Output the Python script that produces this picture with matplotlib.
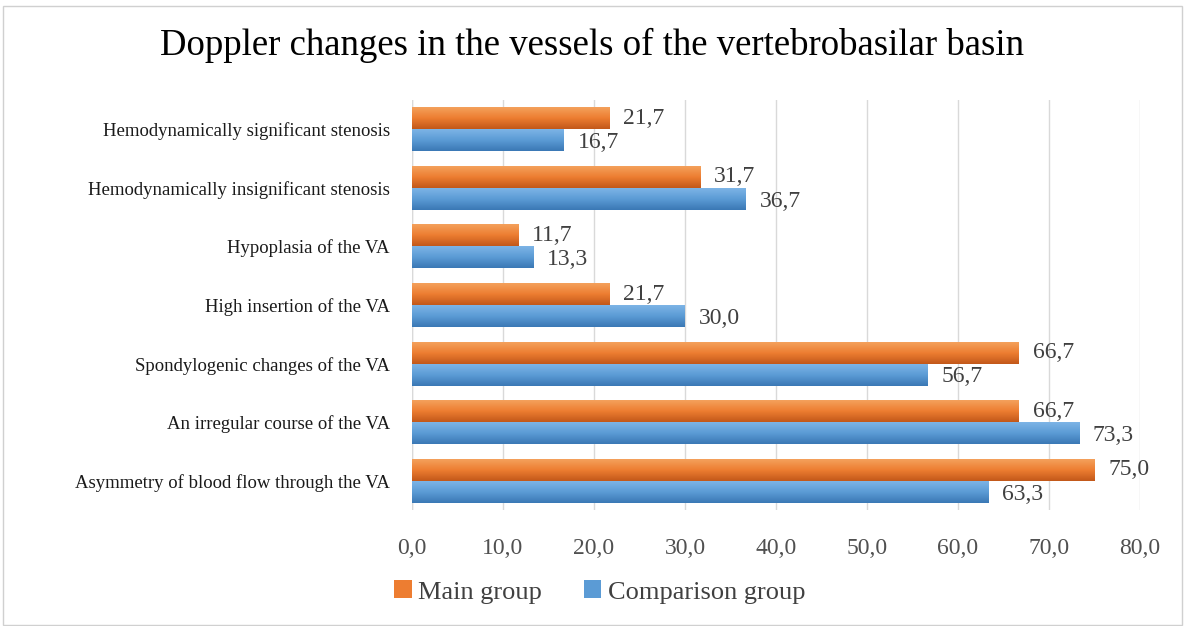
import numpy as np
import matplotlib
matplotlib.use("Agg")
import matplotlib.pyplot as plt
from matplotlib.colors import LinearSegmentedColormap
from matplotlib.patches import Rectangle

categories = [
    "Hemodynamically significant stenosis",
    "Hemodynamically insignificant stenosis",
    "Hypoplasia of the VA",
    "High insertion of the VA",
    "Spondylogenic changes of the VA",
    "An irregular course of the VA",
    "Asymmetry of blood flow through the VA",
]
main_group = [21.7, 31.7, 11.7, 21.7, 66.7, 66.7, 75.0]
comparison_group = [16.7, 36.7, 13.3, 30.0, 56.7, 73.3, 63.3]
series_names = ["Main group", "Comparison group"]
xticks = [0, 10, 20, 30, 40, 50, 60, 70, 80]

plt.rcParams['font.family'] = ['Liberation Serif', 'DejaVu Serif']

fig = plt.figure(figsize=(11.85, 6.26), dpi=100)
ax = fig.add_axes([412/1185, 1-510/626, (1140-412)/1185, 410/626])

n = len(categories)
y = np.arange(n)
h = 0.375

orange_cmap = LinearSegmentedColormap.from_list("o", ["#F4A15C", "#ED7D31", "#C2581A"])
blue_cmap = LinearSegmentedColormap.from_list("b", ["#7DB4E6", "#5B9BD5", "#3A78B5"])

bars_main = ax.barh(y - h/2, main_group, height=h, color="#ED7D31", zorder=2)
bars_comp = ax.barh(y + h/2, comparison_group, height=h, color="#5B9BD5", zorder=2)

grad = np.linspace(0, 1, 64).reshape(-1, 1)
for bars, cmap in ((bars_main, orange_cmap), (bars_comp, blue_cmap)):
    for b in bars:
        x0, y0 = b.get_x(), b.get_y()
        w, hh = b.get_width(), b.get_height()
        b.set_facecolor("none")
        ax.imshow(grad, cmap=cmap, aspect="auto", extent=(x0, x0 + w, y0 + hh, y0),
                  zorder=2.5, interpolation="bilinear")

ax.set_ylim(n - 0.5, -0.5)
ax.set_xlim(0, 80)

def fmt(v):
    return f"{v:.1f}".replace(".", ",")

for b, v in zip(bars_main, main_group):
    ax.text(v + 1.5, b.get_y() + b.get_height()/2, fmt(v), va="center", ha="left",
            fontsize=17, color="#404040")
for b, v in zip(bars_comp, comparison_group):
    ax.text(v + 1.5, b.get_y() + b.get_height()/2 + 0.04, fmt(v), va="center", ha="left",
            fontsize=17, color="#404040")

ax.set_yticks(y)
ax.set_yticklabels(categories, fontsize=13.5, color="#1a1a1a")
ax.set_xticks(xticks)
ax.set_xticklabels([fmt(t) for t in xticks], fontsize=17, color="#505050")
ax.tick_params(axis="y", length=0, pad=16)
ax.tick_params(axis="x", length=0, pad=20)
ax.grid(axis="x", color="#D9D9D9", linewidth=1, zorder=0)
for s in ax.spines.values():
    s.set_visible(False)
ax.axvline(0, color="#D9D9D9", linewidth=1, zorder=1)

fig.text(0.5, 1-45/626, "Doppler changes in the vessels of the vertebrobasilar basin",
         ha="center", va="center", fontsize=26.5, color="#000000")

handles = [Rectangle((0, 0), 1, 1, facecolor="#ED7D31"),
           Rectangle((0, 0), 1, 1, facecolor="#5B9BD5")]
fig.legend(handles, series_names, loc="center", bbox_to_anchor=(600/1185, 1-592/626),
           ncol=2, frameon=False, fontsize=19, handlelength=0.65, handleheight=0.65,
           handletextpad=0.25, columnspacing=1.6, labelcolor="#404040")

fig.patches.append(Rectangle((3/1185, 1/626), 1179/1185, 619/626, transform=fig.transFigure,
                             fill=False, edgecolor="#D0D0D0", linewidth=1))

fig.savefig("out.png", dpi=100)
